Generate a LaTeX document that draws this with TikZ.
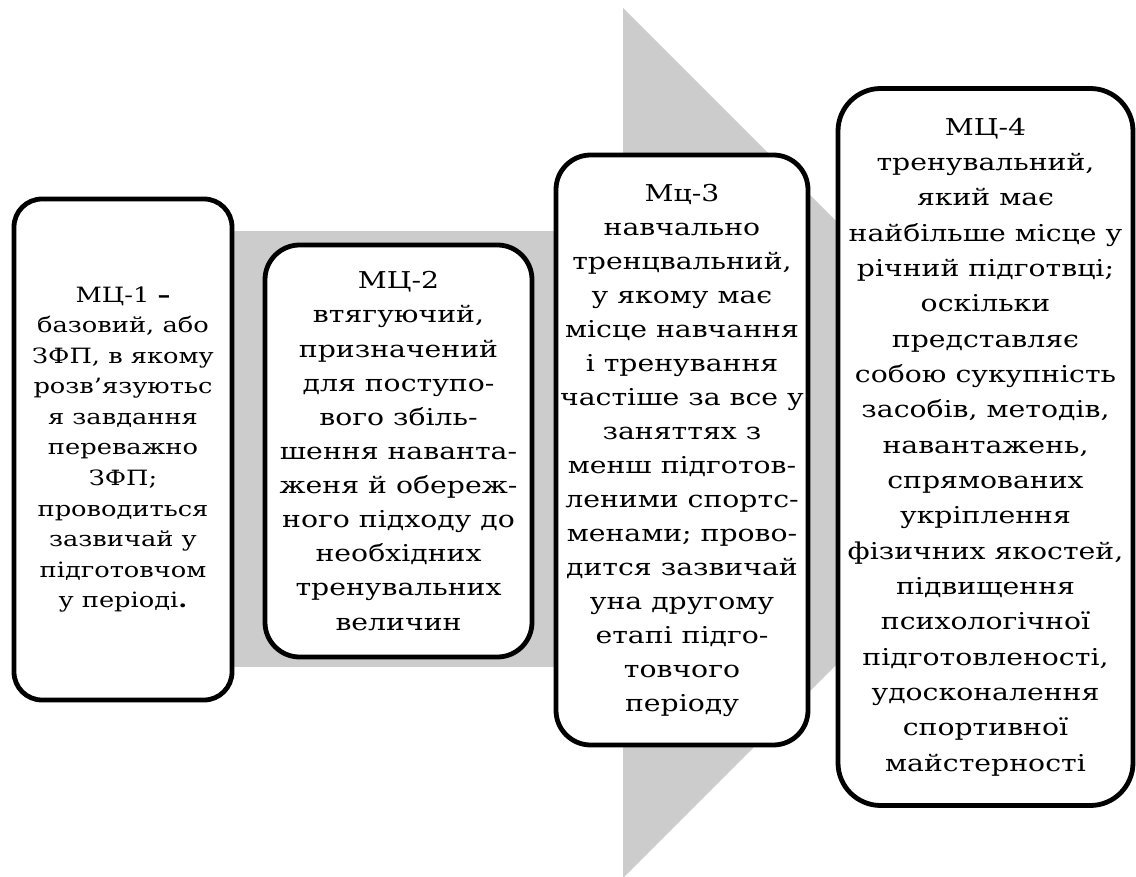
\documentclass[tikz,border=0pt]{standalone}
\usepackage{fontspec}
\setmainfont{DejaVu Serif}
\newfontfamily\boxfont[FakeStretch=1.22]{DejaVu Serif}
\begin{document}
\begin{tikzpicture}[x=0.75pt,y=-0.75pt,
  box/.style={draw=black, line width=3.6pt, fill=white, rectangle, align=center, inner sep=0pt, font=\boxfont},
  arrowfill/.style={fill=black!20, draw=none}]
\useasboundingbox (0,0) rectangle (1136,877);
% big gray arrow
\fill[arrowfill] (232,231) rectangle (624,667);
\fill[arrowfill] (623,8) -- (1058,443) -- (623,878) -- cycle;
% boxes
\node[box, minimum width=163.5pt, minimum height=375.75pt, rounded corners=21pt,
  font=\boxfont\fontsize{15.8}{22.9}\selectfont] (b1) at (123,449.5)
  {МЦ-1 \textbf{–}\\базовий, або\\ЗФП, в якому\\розв’язуютьс\\я завдання\\переважно\\ЗФП;\\проводиться\\зазвичай у\\підготовчом\\у періоді\textbf{.}};
\node[box, minimum width=200.25pt, minimum height=309pt, rounded corners=26pt,
  font=\boxfont\fontsize{17.4}{25.6}\selectfont] (b2) at (398.5,451)
  {МЦ-2\\втягуючий,\\призначений\\для поступо-\\вого збіль-\\шення наванта-\\женя й обереж-\\ного підходу до\\необхідних\\тренувальних\\величин};
\node[box, minimum width=189pt, minimum height=442.5pt, rounded corners=26pt,
  font=\boxfont\fontsize{17.4}{25.5}\selectfont] (b3) at (682,450)
  {Мц-3\\навчально\\тренцвальний,\\у якому має\\місце навчання\\і тренування\\частіше за все у\\заняттях з\\менш підготов-\\леними спортс-\\менами; прово-\\дится зазвичай\\уна другому\\етапі підго-\\товчого\\періоду};
\node[box, minimum width=221.25pt, minimum height=537.75pt, rounded corners=32pt,
  font=\boxfont\fontsize{17.4}{26.5}\selectfont] (b4) at (985.5,447)
  {МЦ-4\\тренувальний,\\який має\\найбільше місце у\\річний підготвці;\\оскільки\\представляє\\собою сукупність\\засобів, методів,\\навантажень,\\спрямованих\\укріплення\\фізичних якостей,\\підвищення\\психологічної\\підготовленості,\\удосконалення\\спортивної\\майстерності};
\end{tikzpicture}
\end{document}
